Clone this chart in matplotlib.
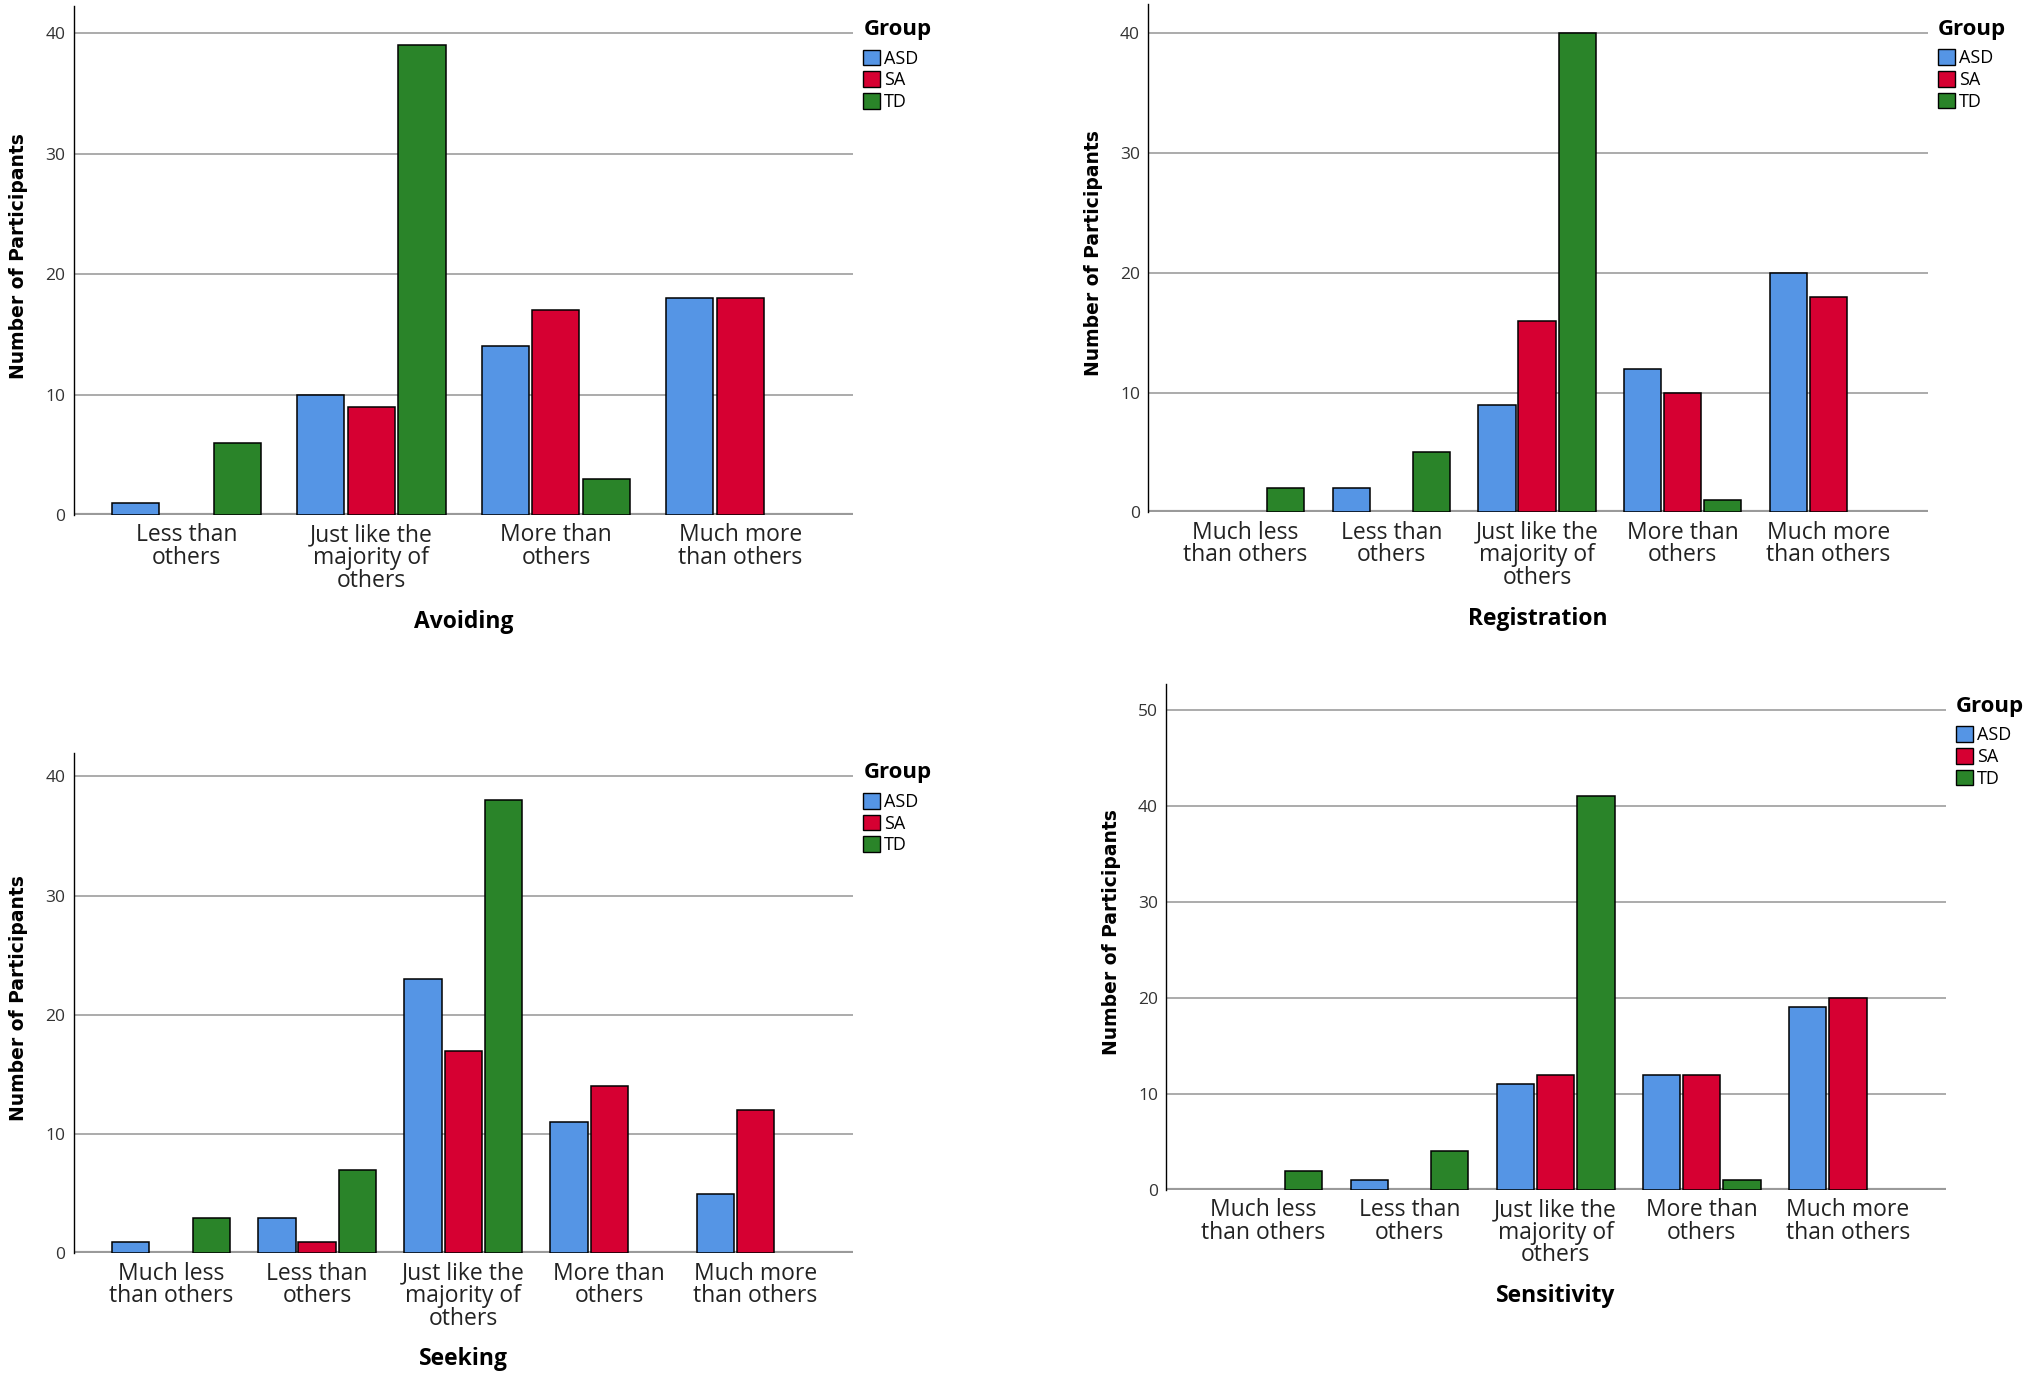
import numpy as np
import matplotlib.pyplot as plt
from matplotlib.patches import Patch

plt.rcParams['font.family'] = ['Open Sans', 'DejaVu Sans']

# Dane
groups = ["ASD", "SA", "TD"]
colors = ["#5595E5", "#D60032", "#2A8429"]

cats_4 = ["Less than\nothers", "Just like the\nmajority of\nothers",
          "More than\nothers", "Much more\nthan others"]
cats_5 = ["Much less\nthan others", "Less than\nothers", "Just like the\nmajority of\nothers",
          "More than\nothers", "Much more\nthan others"]

avoiding_asd = [1, 10, 14, 18]
avoiding_sa = [0, 9, 17, 18]
avoiding_td = [6, 39, 3, 0]

registration_asd = [0, 2, 9, 12, 20]
registration_sa = [0, 0, 16, 10, 18]
registration_td = [2, 5, 40, 1, 0]

seeking_asd = [1, 3, 23, 11, 5]
seeking_sa = [0, 1, 17, 14, 12]
seeking_td = [3, 7, 38, 0, 0]

sensitivity_asd = [0, 1, 11, 12, 19]
sensitivity_sa = [0, 0, 12, 12, 20]
sensitivity_td = [2, 4, 41, 1, 0]

panels = [
    ("Avoiding", cats_4, [avoiding_asd, avoiding_sa, avoiding_td],
     [0.0364, 0.6262, 0.3839, 0.3691], (-0.61, 3.61), 42.2, [0, 10, 20, 30, 40]),
    ("Registration", cats_5, [registration_asd, registration_sa, registration_td],
     [0.5657, 0.6281, 0.3839, 0.3691], (-0.667, 4.68), 42.4, [0, 10, 20, 30, 40]),
    ("Seeking", cats_5, [seeking_asd, seeking_sa, seeking_td],
     [0.0364, 0.0904, 0.3839, 0.3635], (-0.665, 4.67), 42.0, [0, 10, 20, 30, 40]),
    ("Sensitivity", cats_5, [sensitivity_asd, sensitivity_sa, sensitivity_td],
     [0.5746, 0.1365, 0.3839, 0.3673], (-0.665, 4.67), 52.7, [0, 10, 20, 30, 40, 50]),
]

fig = plt.figure(figsize=(20.3, 13.78), dpi=100)

bar_w = 0.255
step = 0.275

for title, cats, series, rect, xlim, ymax, yticks in panels:
    ax = fig.add_axes(rect)
    x = np.arange(len(cats))
    for i, (vals, col) in enumerate(zip(series, colors)):
        vals = np.array(vals)
        m = vals > 0
        ax.bar(x[m] + (i - 1) * step, vals[m], width=bar_w, color=col,
               edgecolor="black", linewidth=1.1, zorder=3)

    ax.set_xlim(*xlim)
    ax.set_ylim(0, ymax)
    ax.set_yticks(yticks)
    for t in yticks[1:]:
        ax.axhline(t, color="#ABABAB", linewidth=1.4, zorder=1)
    ax.axhline(0, color="#9A9A9A", linewidth=3, zorder=2)

    for s in ["top", "right", "bottom"]:
        ax.spines[s].set_visible(False)
    ax.spines["left"].set_linewidth(1.0)

    ax.set_xticks(x)
    ax.set_xticklabels(cats, fontsize=16.5, linespacing=0.92, color="#222222")
    ax.tick_params(axis="x", length=0, pad=6)
    ax.tick_params(axis="y", length=0, pad=6, labelsize=12.5, labelcolor="#333333")

    ax.set_xlabel(title, fontsize=16.5, fontweight="bold")
    ax.xaxis.set_label_coords(0.5, -0.21)
    ax.xaxis.label.set_va("center")
    ax.set_ylabel("Number of Participants", fontsize=13.5, fontweight="bold", family="DejaVu Sans")
    ax.yaxis.label.set_va("center")
    ax.yaxis.set_label_coords(-0.071, 0.51)

    handles = [Patch(facecolor=c, edgecolor="black", linewidth=1.0, label=g)
               for g, c in zip(groups, colors)]
    fig_h = rect[3] * 13.78 * 100
    top = yticks[-1] / ymax + 14 / fig_h
    leg = ax.legend(handles=handles, title="Group", loc="upper left",
                    bbox_to_anchor=(1.013, top), frameon=False, fontsize=13,
                    handlelength=0.95, handleheight=0.95, handletextpad=0.2,
                    labelspacing=0.2, borderpad=0, borderaxespad=0,
                    alignment="left",
                    title_fontproperties={"weight": "bold", "size": 16})
    leg._legend_box.sep = 7

fig.savefig("out.png", dpi=100)
